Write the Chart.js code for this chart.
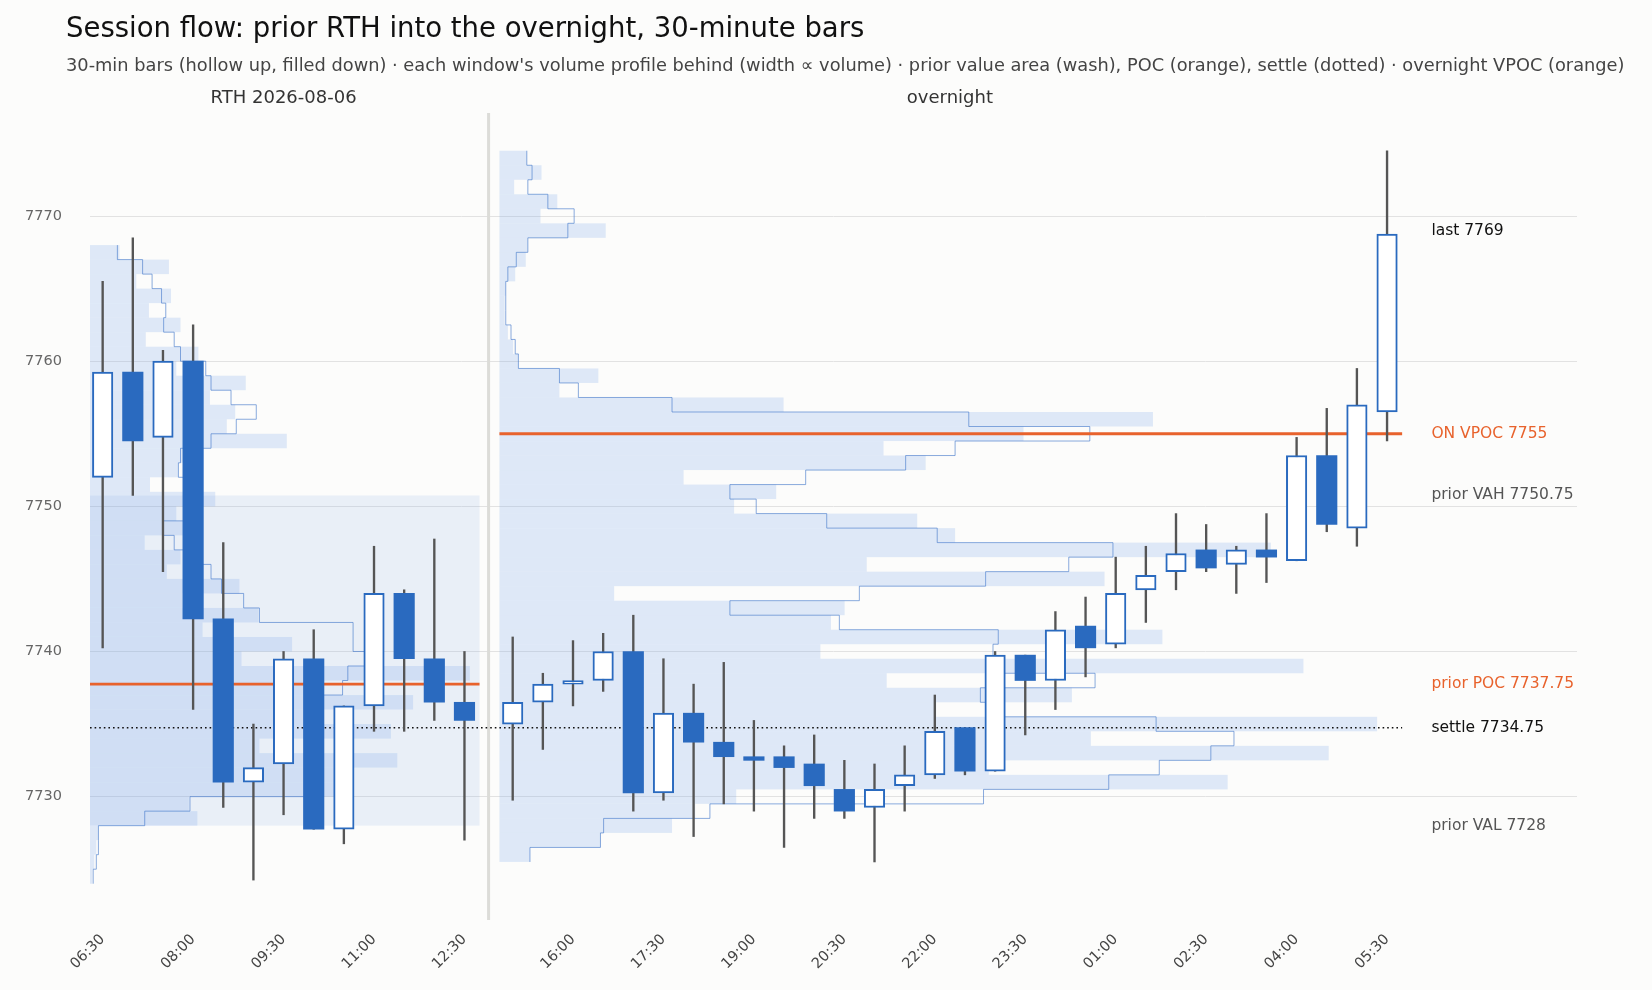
<!DOCTYPE html>
<html lang="en">
<head>
<meta charset="UTF-8">
<title>Session flow</title>
<script src="https://cdn.jsdelivr.net/npm/chart.js"></script>
<style>
  body { margin: 0; background: #fcfcfb; font-family: 'DejaVu Sans', sans-serif; }
  #wrap { position: relative; width: 1652px; height: 990px; }
  #title { position: absolute; left: 66px; top: 11px; font-size: 27.5px; color: #111; }
  #subtitle { position: absolute; left: 66px; top: 54px; font-size: 17.8px; color: #444; white-space: nowrap; }
</style>
</head>
<body>
<div id="wrap">
  <canvas id="chart" width="1652" height="990"></canvas>
  <div id="title">Session flow: prior RTH into the overnight, 30-minute bars</div>
  <div id="subtitle">30-min bars (hollow up, filled down) · each window's volume profile behind (width ∝ volume) · prior value area (wash), POC (orange), settle (dotted) · overnight VPOC (orange)</div>
</div>
<script>
// RTH session candles (06:30 .. 12:30)
const rthTimes = ['06:30','07:00','07:30','08:00','08:30','09:00','09:30','10:00','10:30','11:00','11:30','12:00','12:30'];
const rthOpen  = [7752, 7759.25, 7754.75, 7760, 7742.25, 7731, 7732.25, 7739.5, 7727.75, 7736.25, 7744, 7739.5, 7736.5];
const rthHigh  = [7765.5, 7768.5, 7760.75, 7762.5, 7747.5, 7735, 7740, 7741.5, 7736.25, 7747.25, 7744.25, 7747.75, 7740];
const rthLow   = [7740.25, 7750.75, 7745.5, 7736, 7729.25, 7724.25, 7728.75, 7727.75, 7726.75, 7734.5, 7734.5, 7735.25, 7727];
const rthClose = [7759.25, 7754.5, 7760, 7742.25, 7731, 7732, 7739.5, 7727.75, 7736.25, 7744, 7739.5, 7736.5, 7735.25];

// Overnight candles (15:00 .. 05:30)
const onTimes = ['15:00','15:30','16:00','16:30','17:00','17:30','18:00','18:30','19:00','19:30','20:00','20:30','21:00','21:30','22:00',
                 '22:30','23:00','23:30','00:00','00:30','01:00','01:30','02:00','02:30','03:00','03:30','04:00','04:30','05:00','05:30'];
const onOpen  = [7735, 7736.5, 7737.75, 7738, 7740, 7730.25, 7735.75, 7733.75, 7732.75, 7732.75, 7732.25, 7730.5, 7729.25, 7730.75, 7731.5,
                 7734.75, 7731.75, 7739.75, 7738, 7741.75, 7740.5, 7744.25, 7745.5, 7747, 7746, 7747, 7746.25, 7753.5, 7748.5, 7756.5];
const onHigh  = [7741, 7738.5, 7740.75, 7741.25, 7742.5, 7739.5, 7737.75, 7739.25, 7735.25, 7733.5, 7734.25, 7732.5, 7732.25, 7733.5, 7737,
                 7734.75, 7740, 7739.75, 7742.75, 7743.75, 7746.5, 7747.25, 7749.5, 7748.75, 7747.25, 7749.5, 7754.75, 7756.75, 7759.5, 7774.5];
const onLow   = [7729.75, 7733.25, 7736.25, 7737.25, 7729, 7729.75, 7727.25, 7729.5, 7729, 7726.5, 7728.5, 7728.5, 7725.5, 7729, 7731.25,
                 7731.5, 7731.75, 7734.25, 7736, 7738.25, 7740.25, 7742, 7744.25, 7745.5, 7744, 7744.75, 7746.25, 7748.25, 7747.25, 7754.5];
const onClose = [7736.5, 7737.75, 7738, 7740, 7730.25, 7735.75, 7733.75, 7732.75, 7732.5, 7732, 7730.75, 7729, 7730.5, 7731.5, 7734.5,
                 7731.75, 7739.75, 7738, 7741.5, 7740.25, 7744, 7745.25, 7746.75, 7745.75, 7747, 7746.5, 7753.5, 7748.75, 7757, 7768.75];

// Volume profiles, 1-point bins, listed from the top bin down (arbitrary volume units)
const rthProfileTop = 7767.5;
const rthProfileFill = [28, 75, 44, 77, 56, 86, 53, 103, 82, 148, 114, 138, 130, 187, 88, 84, 57, 119, 82, 94, 52, 86, 73, 142, 88,
                        160, 107, 192, 144, 361, 204, 307, 204, 286, 161, 292, 244, 244, 94, 102, 8, 6, 4, 2];
const rthProfileLine = [26, 50, 59, 68, 72, 70, 80, 86, 110, 115, 134, 158, 139, 115, 86, 84, 90, 95, 100, 69, 80, 94, 115, 125, 146,
                        161, 250, 250, 275, 245, 240, 204, 210, 210, 205, 204, 204, 205, 95, 52, 8, 8, 6, 3];
const onProfileTop = 7774;
const onProfileFill = [26, 40, 14, 55, 39, 101, 27, 25, 15, 6, 5, 5, 8, 13, 18, 94, 57, 270, 621, 498, 365, 405, 175, 263, 223,
                       397, 433, 733, 349, 575, 109, 328, 315, 630, 305, 764, 368, 544, 415, 834, 562, 788, 465, 692, 225, 186, 164, 96, 29];
const onProfileLine = [26, 31, 27, 46, 71, 65, 27, 16, 8, 6, 6, 6, 11, 15, 18, 57, 75, 164, 446, 561, 433, 386, 291, 219, 244,
                       311, 416, 583, 541, 462, 342, 219, 323, 474, 469, 479, 566, 457, 479, 624, 698, 676, 627, 579, 460, 200, 99, 96, 29];

// Reference levels
const priorVAH = 7750.75, priorVAL = 7728, priorPOC = 7737.75, settle = 7734.75, onVPOC = 7755, lastPrice = 7769;
const yTicks = [7730, 7740, 7750, 7760, 7770];

// layout in bar-index units
const onStart = 13.6, sepX = 12.8, xMin = -0.42, xMax = 48.9, lineEnd = 43.1, onBase = 13.16, labelX = 44.07;
const volScale = 1 / 28.65;

const UP = '#2a6abf';
const rthX = rthTimes.map((t, i) => i);
const onX = onTimes.map((t, i) => onStart + i);
const allX = rthX.concat(onX);
const allT = rthTimes.concat(onTimes);
const O = rthOpen.concat(onOpen), H = rthHigh.concat(onHigh), L = rthLow.concat(onLow), C = rthClose.concat(onClose);

const bodies = allX.map((x, i) => ({ x: x, y: [O[i], C[i]] }));
const wicks = allX.map((x, i) => ({ x: x, y: [L[i], H[i]] }));
const isUp = allX.map((x, i) => C[i] >= O[i]);
const tickIdx = [0, 3, 6, 9, 12, 15, 18, 21, 24, 27, 30, 33, 36, 39, 42];

const backdrop = {
  id: 'backdrop',
  beforeDatasetsDraw(chart) {
    const { ctx, chartArea: a, scales: { x, y } } = chart;
    ctx.save();
    // prior value area wash
    ctx.fillStyle = 'rgba(120,165,230,0.14)';
    ctx.fillRect(x.getPixelForValue(xMin), y.getPixelForValue(priorVAH),
                 x.getPixelForValue(12.5) - x.getPixelForValue(xMin), y.getPixelForValue(priorVAL) - y.getPixelForValue(priorVAH));
    const drawProfile = (base, top, fill, line) => {
      ctx.fillStyle = 'rgba(120,165,230,0.22)';
      fill.forEach((v, i) => {
        const c = top - i;
        const y0 = y.getPixelForValue(c + 0.5), y1 = y.getPixelForValue(c - 0.5);
        ctx.fillRect(x.getPixelForValue(base), y0, x.getPixelForValue(base + v * volScale) - x.getPixelForValue(base), y1 - y0);
      });
      ctx.strokeStyle = 'rgba(60,115,200,0.6)';
      ctx.lineWidth = 1;
      ctx.beginPath();
      line.forEach((v, i) => {
        const c = top - i;
        const px = x.getPixelForValue(base + v * volScale);
        if (i === 0) ctx.moveTo(px, y.getPixelForValue(c + 0.5)); else ctx.lineTo(px, y.getPixelForValue(c + 0.5));
        ctx.lineTo(px, y.getPixelForValue(c - 0.5));
      });
      ctx.stroke();
    };
    drawProfile(xMin, rthProfileTop, rthProfileFill, rthProfileLine);
    drawProfile(onBase, onProfileTop, onProfileFill, onProfileLine);
    // session separator
    ctx.strokeStyle = '#dcdcd8';
    ctx.lineWidth = 3;
    ctx.beginPath();
    ctx.moveTo(x.getPixelForValue(sepX), a.top);
    ctx.lineTo(x.getPixelForValue(sepX), a.bottom);
    ctx.stroke();
    // levels
    const hline = (v, x0, x1, color, w, dash) => {
      ctx.strokeStyle = color; ctx.lineWidth = w; ctx.setLineDash(dash);
      ctx.beginPath();
      ctx.moveTo(x.getPixelForValue(x0), y.getPixelForValue(v));
      ctx.lineTo(x.getPixelForValue(x1), y.getPixelForValue(v));
      ctx.stroke();
      ctx.setLineDash([]);
    };
    hline(priorPOC, xMin, 12.5, '#e8622c', 2.8, []);
    hline(onVPOC, onBase, lineEnd, '#e8622c', 2.8, []);
    hline(settle, xMin, lineEnd, '#111', 1.6, [1.6, 3]);
    ctx.restore();
  },
  afterDraw(chart) {
    const { ctx, chartArea: a, scales: { x, y } } = chart;
    ctx.save();
    ctx.font = '15.5px "DejaVu Sans"';
    ctx.textBaseline = 'middle';
    ctx.textAlign = 'left';
    const lbl = (text, v, color) => { ctx.fillStyle = color; ctx.fillText(text, x.getPixelForValue(labelX), y.getPixelForValue(v)); };
    lbl('last ' + lastPrice, lastPrice, '#111');
    lbl('ON VPOC ' + onVPOC, onVPOC, '#e8622c');
    lbl('prior VAH ' + priorVAH, priorVAH, '#555');
    lbl('prior POC ' + priorPOC, priorPOC, '#e8622c');
    lbl('settle ' + settle, settle, '#111');
    lbl('prior VAL ' + priorVAL, priorVAL, '#555');
    ctx.font = '18px "DejaVu Sans"';
    ctx.fillStyle = '#333';
    ctx.textAlign = 'center';
    ctx.fillText('RTH 2026-08-06', x.getPixelForValue((rthX.length - 1) / 2), a.top - 15);
    ctx.fillText('overnight', x.getPixelForValue(onStart + (onX.length - 1) / 2), a.top - 15);
    ctx.restore();
  }
};

new Chart(document.getElementById('chart'), {
  type: 'bar',
  data: {
    datasets: [
      { data: bodies, order: 1, grouped: false, barThickness: 20.5,
        backgroundColor: isUp.map(u => u ? '#ffffff' : UP), borderColor: UP,
        borderWidth: isUp.map(u => u ? 2 : 0), borderSkipped: false },
      { data: wicks, order: 2, grouped: false, barThickness: 1.7, backgroundColor: '#555', borderWidth: 0 }
    ]
  },
  options: {
    responsive: false,
    animation: false,
    layout: { padding: { top: 113, right: 75, left: 0, bottom: 0 } },
    plugins: { legend: { display: false }, tooltip: { enabled: false } },
    scales: {
      x: {
        type: 'linear', min: xMin, max: xMax, offset: false,
        afterFit: s => { s.height = 70; },
        afterBuildTicks: s => { s.ticks = tickIdx.map(i => ({ value: allX[i] })); },
        ticks: {
          minRotation: 45, maxRotation: 45, autoSkip: false, color: '#444',
          font: { size: 14.5, family: 'DejaVu Sans' },
          callback: v => { const i = allX.indexOf(v); return i >= 0 ? allT[i] : ''; }
        },
        grid: { display: false }, border: { display: false }
      },
      y: {
        min: 7721.5, max: 7777.1,
        afterFit: s => { s.width = 90; },
        afterBuildTicks: s => { s.ticks = yTicks.map(v => ({ value: v })); },
        ticks: { color: '#666', padding: 28, font: { size: 14.5, family: 'DejaVu Sans' }, callback: v => String(v) },
        grid: { color: '#e2e2e2', drawTicks: false }, border: { display: false }
      }
    }
  },
  plugins: [backdrop]
});
</script>
</body>
</html>
